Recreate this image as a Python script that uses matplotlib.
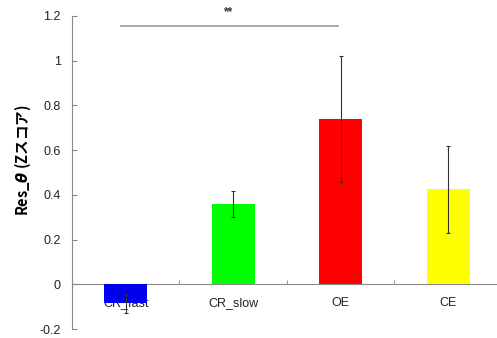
import matplotlib.pyplot as plt
import numpy as np

categories = ['CR_fast', 'CR_slow', 'OE', 'CE']
means = [-0.085, 0.359, 0.740, 0.425]
errors = [0.043, 0.058, 0.283, 0.195]
colors = ['#0000ee', '#00ff00', '#ff0000', '#ffff00']
sig_pair = (0, 2)
sig_level = 1.157
sig_text = '**'

plt.rcParams['font.family'] = ['Liberation Sans', 'Noto Sans CJK JP', 'DejaVu Sans']
plt.rcParams['mathtext.fontset'] = 'dejavusans'

fig = plt.figure(figsize=(4.97, 3.38), dpi=100)
ax = fig.add_axes([72 / 497, 1 - 329 / 338, 1 - 72 / 497 + 0.01, (329 - 16) / 338])

x = np.arange(len(categories))
ax.bar(x, means, width=0.4, color=colors, zorder=2)
ax.errorbar(x, means, yerr=errors, fmt='none', ecolor='#333333',
            elinewidth=0.8, capsize=1.5, capthick=0.8, zorder=3)

ax.set_xlim(-0.5, 3.5)
ax.set_ylim(-0.2, 1.2)
ax.set_yticks(np.arange(-0.2, 1.21, 0.2))
ax.set_yticklabels(['-0.2', '0', '0.2', '0.4', '0.6', '0.8', '1', '1.2'])

for s in ['top', 'right']:
    ax.spines[s].set_visible(False)
ax.spines['bottom'].set_position(('data', 0))
ax.spines['bottom'].set_color('#888888')
ax.spines['left'].set_color('#888888')
ax.spines['bottom'].set_zorder(1)

ax.set_xticks(x)
ax.set_xticklabels(categories)
ax.set_xticks([0.5, 1.5, 2.5], minor=True)
ax.tick_params(axis='x', which='major', length=0, pad=9, labelsize=9, colors='#222222')
ax.tick_params(axis='x', which='minor', direction='in', length=3, color='#888888')
ax.tick_params(axis='y', direction='in', length=3.5, color='#888888', labelsize=9,
               labelcolor='#222222', pad=8)
for lbl in ax.get_xticklabels():
    lbl.set_zorder(4)

# non-math part of the label uses the single font found for the family
ax.set_ylabel('Res_$\\boldsymbol{\\theta}$ (Zスコア)', fontsize=10.5, fontweight='bold',
              family='Noto Sans CJK JP')
ax.yaxis.set_label_coords(-0.09, 0.54)

# significance line
ax.plot([sig_pair[0] - 0.04, sig_pair[1] - 0.03], [sig_level, sig_level], color='#999999', lw=1.2,
        clip_on=False)
ax.text((sig_pair[0] + sig_pair[1]) / 2 - 0.04, sig_level + 0.06, sig_text, ha='center', va='center',
        fontsize=8.5, fontweight='bold', color='#333333')

fig.savefig('out.png', dpi=100)
